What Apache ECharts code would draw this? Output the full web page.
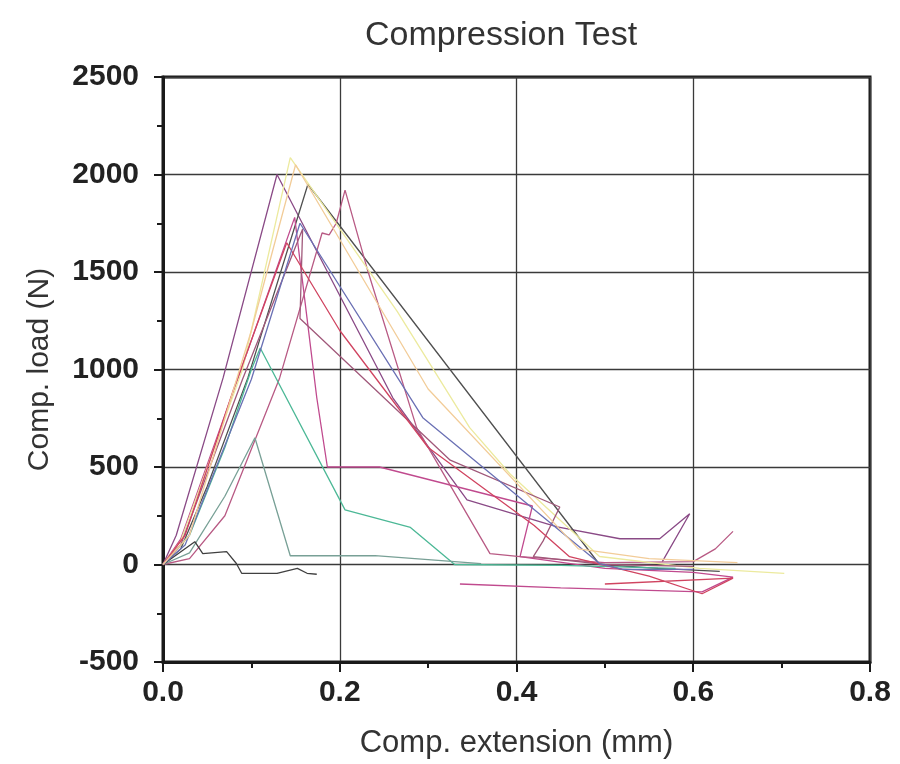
<!DOCTYPE html>
<html>
<head>
<meta charset="utf-8">
<script src="https://cdn.jsdelivr.net/npm/echarts@6/dist/echarts.min.js"></script>
<style>
html,body{margin:0;padding:0;background:#fff;}
#chart{width:900px;height:764px;}
</style>
</head>
<body>
<div id="chart"></div>
<script>
// ---- data (x: Comp. extension mm, y: Comp. load N) ----
const titleText = 'Compression Test';
const xName = 'Comp. extension (mm)';
const yName = 'Comp. load (N)';

const specimen1 = [[0,0],[0.015,150],[0.068,957],[0.129,2000],[0.26,855],[0.344,331],[0.446,193],[0.517,132],[0.562,132],[0.596,260],[0.565,15]];
const specimen2 = [[0,0],[0.02,80],[0.05,400],[0.096,957],[0.164,1950],[0.494,0],[0.56,-20],[0.63,-35]];
const specimen3 = [[0,0],[0.02,130],[0.085,957],[0.149,1780],[0.174,855],[0.186,500],[0.245,500],[0.418,300],[0.404,40],[0.5,-20],[0.6,-40],[0.645,-65],[0.61,-140],[0.45,-120],[0.336,-100]];
const specimen4 = [[0,0],[0.03,30],[0.07,250],[0.132,957],[0.18,1700],[0.188,1690],[0.196,1750],[0.206,1920],[0.231,1517],[0.287,702],[0.37,56],[0.404,40],[0.5,10],[0.6,15],[0.625,80],[0.645,170]];
const specimen5 = [[0,0],[0.02,120],[0.09,1000],[0.144,2087],[0.265,1298],[0.347,702],[0.393,463],[0.494,41],[0.607,-20],[0.703,-45]];
const specimen6 = [[0,0],[0.03,150],[0.07,600],[0.1,1000],[0.11,1110],[0.206,280],[0.28,190],[0.33,0],[0.45,-5],[0.58,-20]];
const specimen7 = [[0,0],[0.03,60],[0.07,350],[0.104,650],[0.144,45],[0.24,45],[0.3,25],[0.36,5]];
const specimen8 = [[0,0],[0.036,117],[0.045,56],[0.072,66],[0.083,5],[0.089,-45],[0.129,-45],[0.152,-20],[0.163,-45],[0.174,-50]];
const specimen9 = [[0,0],[0.02,100],[0.09,950],[0.158,1720],[0.155,1262],[0.325,535],[0.449,295],[0.43,120],[0.419,40],[0.5,0],[0.6,-10]];
const specimen10 = [[0,0],[0.025,150],[0.08,900],[0.14,1650],[0.16,1500],[0.2,1200],[0.3,600],[0.42,200],[0.46,40],[0.55,-60],[0.61,-150],[0.645,-70],[0.5,-100]];
const specimen11 = [[0,0],[0.025,100],[0.1,950],[0.155,1750],[0.294,753],[0.494,5],[0.52,-25],[0.6,-25]];
const specimen12 = [[0,0],[0.03,150],[0.1,1200],[0.15,2050],[0.3,900],[0.47,80],[0.55,30],[0.65,10]];

const seriesData = [specimen1,specimen2,specimen3,specimen4,specimen5,specimen6,specimen7,specimen8,specimen9,specimen10,specimen11,specimen12];
const seriesColors = ['#8a4a86','#505050','#c04a8e','#b85a84','#ecea9e','#4cb896','#78a096','#404040','#a0587a','#d04460','#6a70b4','#f2cc98'];

const chart = echarts.init(document.getElementById('chart'));
const font = "'Liberation Sans', Arial, sans-serif";
chart.setOption({
  backgroundColor: '#fff',
  animation: false,
  title: {
    text: titleText, left: 360, top: 14,
    textStyle: {fontFamily: font, fontSize: 34, fontWeight: 'normal', color: '#333'}
  },
  grid: {left: 163, right: 30, top: 77, bottom: 98, show: true, borderColor: '#1a1a1a', borderWidth: 3},
  xAxis: {
    type: 'value', min: 0, max: 0.8, interval: 0.2,
    name: xName, nameLocation: 'middle', nameGap: 66,
    nameTextStyle: {fontFamily: font, fontSize: 31, color: '#333'},
    axisLine: {show: true, onZero: false, lineStyle: {color: '#1a1a1a', width: 3}},
    axisTick: {show: true, length: 10, lineStyle: {color: '#1a1a1a', width: 2}},
    minorTick: {show: true, splitNumber: 2, length: 6, lineStyle: {color: '#1a1a1a', width: 2}},
    splitLine: {show: true, lineStyle: {color: '#3a3a3a', width: 1.3}},
    axisLabel: {fontFamily: font, fontSize: 30, fontWeight: 'bold', color: '#222', margin: 16,
      formatter: v => v.toFixed(1)}
  },
  yAxis: {
    type: 'value', min: -500, max: 2500, interval: 500,
    name: yName, nameLocation: 'middle', nameGap: 108, nameRotate: 90,
    nameTextStyle: {fontFamily: font, fontSize: 30, color: '#333'},
    axisLine: {show: true, onZero: false, lineStyle: {color: '#1a1a1a', width: 3}},
    axisTick: {show: true, length: 9, lineStyle: {color: '#1a1a1a', width: 2}},
    minorTick: {show: true, splitNumber: 2, length: 6, lineStyle: {color: '#1a1a1a', width: 2}},
    splitLine: {show: true, lineStyle: {color: '#3a3a3a', width: 1.3}},
    axisLabel: {fontFamily: font, fontSize: 30, fontWeight: 'bold', color: '#222', margin: 24,
      formatter: v => String(v)}
  },
  series: seriesData.map((d, i) => ({
    type: 'line', data: d, symbol: 'none', smooth: false,
    lineStyle: {color: seriesColors[i], width: 1.3},
    z: 3
  }))
});
</script>
</body>
</html>
